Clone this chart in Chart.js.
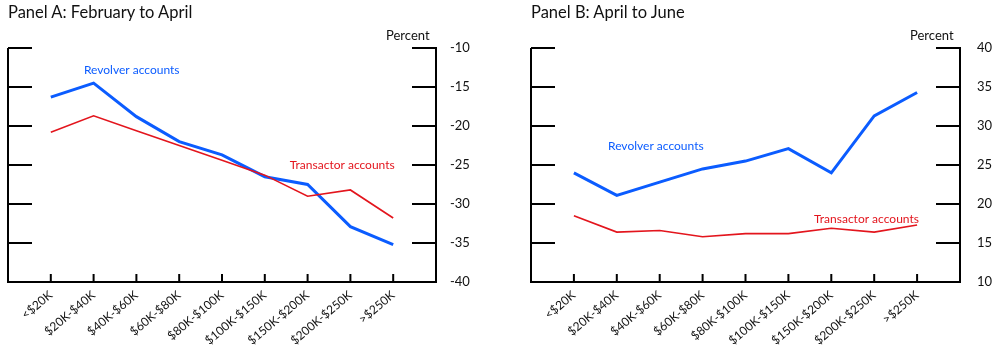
<!DOCTYPE html>
<html>
<head>
<meta charset="utf-8">
<script src="https://cdn.jsdelivr.net/npm/chart.js@4/dist/chart.umd.min.js"></script>
<style>
  body { margin: 0; background: #fff; font-family: Lato, sans-serif; }
  #wrap { position: relative; width: 1000px; height: 350px; overflow: hidden; }
  .panel { position: absolute; top: 0; width: 500px; height: 350px; }
  .title { position: absolute; top: 2px; font-size: 16.5px; color: #111; white-space: nowrap; }
  .unit { position: absolute; top: 27px; font-size: 13px; color: #111; }
</style>
</head>
<body>
<div id="wrap">
  <div class="panel" style="left:0"><canvas id="panelA"></canvas></div>
  <div class="panel" style="left:500px"><canvas id="panelB"></canvas></div>
  <div class="title" style="left:8px">Panel A: February to April</div>
  <div class="title" style="left:531px">Panel B: April to June</div>
  <div class="unit" style="left:386px">Percent</div>
  <div class="unit" style="left:910px">Percent</div>
</div>
<script>
const categories = ["<$20K", "$20K-$40K", "$40K-$60K", "$60K-$80K", "$80K-$100K",
                    "$100K-$150K", "$150K-$200K", "$200K-$250K", ">$250K"];

// Panel A: February to April
const revolverA = [-16.3, -14.5, -18.8, -22.0, -23.7, -26.5, -27.5, -32.9, -35.2];
const transactorA = [-20.8, -18.7, -20.6, -22.5, -24.4, -26.3, -29.0, -28.2, -31.8];
const ticksA = [-40, -35, -30, -25, -20, -15, -10];

// Panel B: April to June
const revolverB = [24.0, 21.1, 22.8, 24.5, 25.5, 27.1, 24.0, 31.3, 34.3];
const transactorB = [18.5, 16.4, 16.6, 15.8, 16.2, 16.2, 16.9, 16.4, 17.3];
const ticksB = [10, 15, 20, 25, 30, 35, 40];

const BLUE = "#0b5cff";
const RED = "#e3151d";

// draws the left frame line, inward ticks on both sides, x ticks and the in-chart labels
const framePlugin = {
  id: "frame",
  afterDraw(chart, args, opts) {
    const ctx = chart.ctx;
    const area = chart.chartArea;
    const x = chart.scales.x, y = chart.scales.y;
    ctx.save();
    ctx.strokeStyle = "#000";
    ctx.lineWidth = 2;
    ctx.beginPath();
    ctx.moveTo(area.left, area.top);
    ctx.lineTo(area.left, area.bottom + 1);
    y.ticks.forEach(t => {
      const py = y.getPixelForValue(t.value);
      ctx.moveTo(area.left, py);
      ctx.lineTo(area.left + 24, py);
      ctx.moveTo(area.right, py);
      ctx.lineTo(area.right - 24, py);
    });
    x.ticks.forEach(t => {
      const px = x.getPixelForValue(t.value);
      ctx.moveTo(px, area.bottom);
      ctx.lineTo(px, area.bottom - 8);
    });
    ctx.stroke();

    ctx.font = "12px Lato, sans-serif";
    ctx.textAlign = "center";
    ctx.textBaseline = "middle";
    opts.notes.forEach(n => {
      ctx.fillStyle = n.color;
      ctx.fillText(n.text, x.getPixelForValue(n.x), y.getPixelForValue(n.y));
    });
    ctx.restore();
  }
};

function makePanel(id, revolver, transactor, yTicks, padLeft, axisWidth, labelPad, notes) {
  const toPoints = vals => vals.map((v, i) => ({ x: i, y: v }));
  return new Chart(document.getElementById(id), {
    type: "line",
    data: {
      datasets: [
        { label: "Transactor accounts", data: toPoints(transactor), borderColor: RED,
          borderWidth: 1.6, pointRadius: 0, tension: 0 },
        { label: "Revolver accounts", data: toPoints(revolver), borderColor: BLUE,
          borderWidth: 3, pointRadius: 0, tension: 0 }
      ]
    },
    options: {
      responsive: false,
      animation: false,
      events: [],
      layout: { padding: { left: padLeft, top: 48, right: 0, bottom: 0 } },
      plugins: {
        legend: { display: false },
        tooltip: { enabled: false },
        frame: { notes: notes }
      },
      scales: {
        x: {
          type: "linear",
          min: -1,
          max: categories.length,
          afterBuildTicks: axis => { axis.ticks = categories.map((c, i) => ({ value: i })); },
          afterFit: axis => { axis.height = 68; },
          grid: { display: false, drawTicks: false },
          border: { display: true, color: "#000", width: 2 },
          ticks: {
            autoSkip: false,
            maxRotation: 40,
            minRotation: 40,
            padding: 6,
            color: "#111",
            font: { family: "Lato", size: 12 },
            callback: v => categories[v]
          }
        },
        y: {
          position: "right",
          min: yTicks[0],
          max: yTicks[yTicks.length - 1],
          afterBuildTicks: axis => { axis.ticks = yTicks.map(v => ({ value: v })); },
          afterFit: axis => { axis.width = axisWidth; },
          grid: { display: false, drawTicks: false },
          border: { display: true, color: "#000", width: 2 },
          ticks: {
            padding: labelPad,
            color: "#111",
            font: { family: "Lato", size: 13 }
          }
        }
      }
    },
    plugins: [framePlugin]
  });
}

[document.getElementById("panelA"), document.getElementById("panelB")].forEach(c => {
  c.width = 500; c.height = 350;
});

makePanel("panelA", revolverA, transactorA, ticksA, 8, 64, 14, [
  { text: "Revolver accounts", color: BLUE, x: 1.89, y: -12.85 },
  { text: "Transactor accounts", color: RED, x: 6.81, y: -24.97 }
]);

makePanel("panelB", revolverB, transactorB, ticksB, 31, 40, 17, [
  { text: "Revolver accounts", color: BLUE, x: 1.91, y: 27.4 },
  { text: "Transactor accounts", color: RED, x: 6.82, y: 18.1 }
]);
</script>
</body>
</html>
